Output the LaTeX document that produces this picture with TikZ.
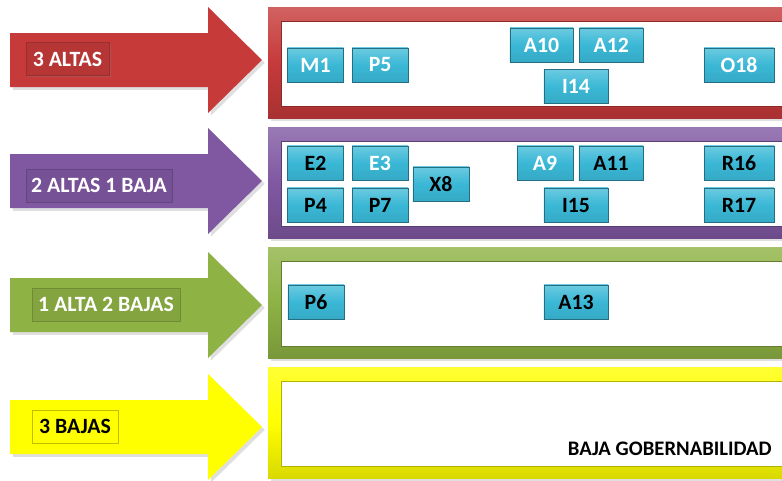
\documentclass[tikz,border=0pt]{standalone}
\usepackage{fontspec}
\setmainfont{Carlito}
\usepackage{tikz}
\usetikzlibrary{positioning, shadows}
\definecolor{altared}{RGB}{198, 58, 58}
\definecolor{mixpurple}{RGB}{128, 88, 162}
\definecolor{bajagreen}{RGB}{142, 178, 68}
\definecolor{bajayellow}{RGB}{255, 255, 0}
\definecolor{itemblue}{RGB}{58, 184, 214}

\tikzset{
    item/.style={rectangle, draw=itemblue!60!black, top color=itemblue!75!white, bottom color=itemblue!92!black, middle color=itemblue, minimum width=1.4cm, minimum height=0.85cm, inner sep=0pt, font=\bfseries\fontsize{15.5}{15.5}\selectfont},
    light/.style={text=white},
    tag/.style={rectangle, fill=#1!92!black, draw=#1!78!black, minimum height=0.82cm, inner sep=0pt, text=white, font=\bfseries\fontsize{15.5}{15.5}\selectfont, drop shadow={opacity=0.3, shadow xshift=1pt, shadow yshift=-1pt}}
}

\begin{document}
\begin{tikzpicture}[x=0.025cm, y=-0.025cm]
    \useasboundingbox (0,0) rectangle (782,480);
    \clip (0,0) rectangle (782,480);

    % Arrows
    \foreach \c/\col in {60/altared, 181/mixpurple, 305/bajagreen, 427/bajayellow}
        \fill[\col, drop shadow={opacity=0.25, shadow xshift=2pt, shadow yshift=-2pt}]
            (10,\c-27) -- (208,\c-27) -- (208,\c-53) -- (262,\c) -- (208,\c+53) -- (208,\c+27) -- (10,\c+27) -- cycle;

    % Frames
    \foreach \t/\col in {7/altared, 127/mixpurple, 247/bajagreen, 367/bajayellow} {
        \fill[top color=\col!80!white, bottom color=\col!85!black, middle color=\col, drop shadow={opacity=0.25, shadow xshift=2pt, shadow yshift=-2pt}] (268,\t) rectangle (800,\t+111);
        \filldraw[fill=white, draw=\col!70!black, line width=0.6pt] (281,\t+14) rectangle (800,\t+99);
    }

    % Arrow labels
    \node (altas3) [tag=altared, minimum width=2.08cm] at (67.5,59) {3 ALTAS};
    \node (altas2) [tag=mixpurple, minimum width=3.65cm] at (99,185.5) {2 ALTAS 1 BAJA};
    \node (altas1) [tag=bajagreen, minimum width=3.7cm] at (106,304.5) {1 ALTA 2 BAJAS};
    \node (bajas3) [tag=bajayellow, fill=bajayellow, draw=bajayellow!75!black, text=black, minimum width=2.15cm] at (75,426.5) {3 BAJAS};

    % Row 1
    \node (m1) [item, light] at (315.5,65) {M1};
    \node (p5) [item, light, right=0.2cm of m1] {P5};
    \node (a10) [item, light, minimum width=1.58cm] at (541.5,45) {A10};
    \node (a12) [item, light, minimum width=1.58cm, right=0.15cm of a10] {A12};
    \node (i14) [item, light, minimum width=1.6cm] at (576,86.5) {I14};
    \node (o18) [item, light, minimum width=1.75cm] at (739,65) {O18};

    % Row 2
    \node (e2) [item] at (315.5,163) {E2};
    \node (e3) [item, light, right=0.2cm of e2] {E3};
    \node (p4) [item] at (315.5,205) {P4};
    \node (p7) [item, right=0.2cm of p4] {P7};
    \node (x8) [item] at (441,184) {X8};
    \node (a9) [item, light] at (545,163) {A9};
    \node (a11) [item, minimum width=1.6cm] at (611,163) {A11};
    \node (i15) [item, minimum width=1.6cm] at (576,205) {I15};
    \node (r16) [item, minimum width=1.75cm] at (739,163) {R16};
    \node (r17) [item, minimum width=1.75cm] at (739,205) {R17};

    % Row 3
    \node (p6) [item] at (316,302) {P6};
    \node (a13) [item, minimum width=1.6cm] at (576,302) {A13};

    % Row 4
    \node (baja) [anchor=east, inner sep=0pt, font=\bfseries\fontsize{14.7}{14.7}\selectfont] at (772,449) {BAJA GOBERNABILIDAD};
\end{tikzpicture}
\end{document}
